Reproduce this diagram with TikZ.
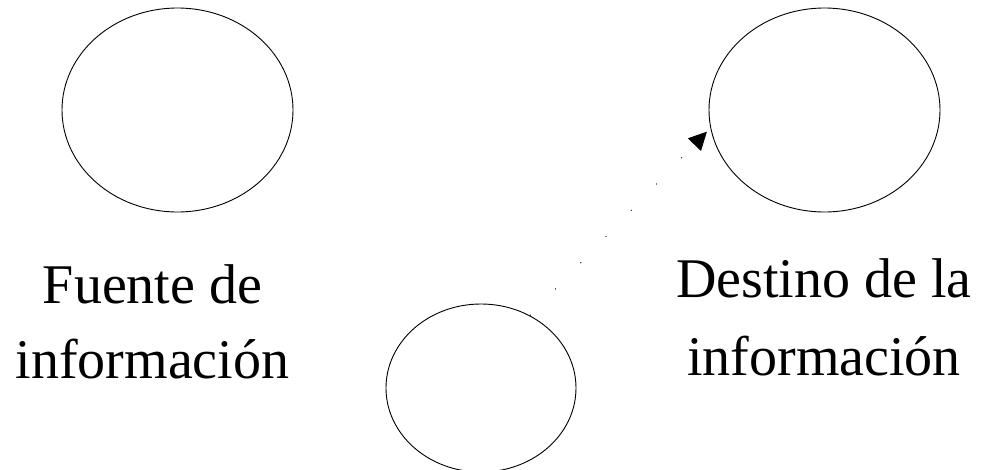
\documentclass[tikz,border=0pt]{standalone}
\usepackage{fontspec}
\setmainfont{Liberation Serif}
\usetikzlibrary{shapes.geometric,arrows.meta}

\tikzset{
  blob/.style={ellipse, draw=black, line width=0.9pt, inner sep=0pt},
  caption/.style={anchor=base, inner sep=0pt, font=\fontsize{56}{77}\selectfont},
  signal/.style={line width=0.9pt, dash pattern=on 1pt off 35.4pt,
    -{Triangle[length=18pt,width=18pt]}, shorten >=5pt}
}

\begin{document}
\begin{tikzpicture}[x=1pt, y=-1pt]
  \useasboundingbox (0,0) rectangle (983,469);

  % source, destination and the small channel ellipse
  \node[blob, minimum width=231pt, minimum height=204pt] (src) at (177.5,110) {};
  \node[blob, minimum width=231pt, minimum height=204pt] (dst) at (824.5,110) {};
  \node[blob, minimum width=190pt, minimum height=168pt] (chan) at (481,388) {};

  % labels
  \node[caption] (srcA) at (152.5,303) {Fuente de};
  \node[caption] (srcB) at (152.5,378) {información};
  \node[caption] (dstA) at (824,297) {Destino de la};
  \node[caption] (dstB) at (824,375) {información};

  % dotted signal path
  \draw[signal] (chan.56) -- (dst.189);
\end{tikzpicture}
\end{document}
